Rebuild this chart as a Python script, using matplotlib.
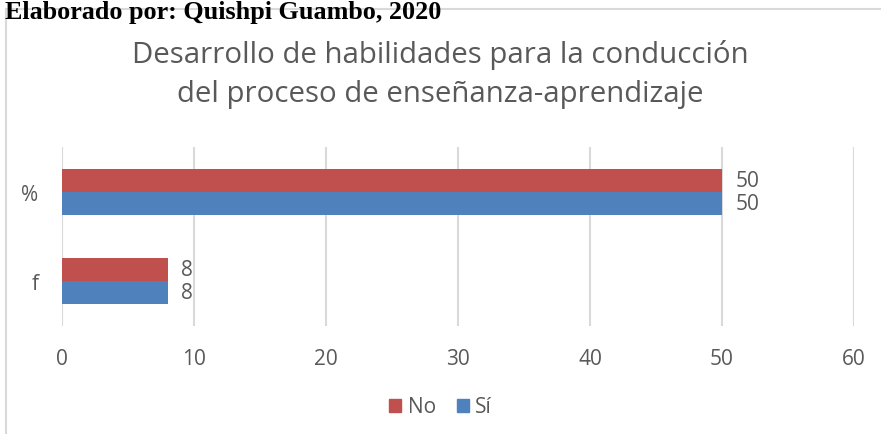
import numpy as np
import matplotlib
matplotlib.use("Agg")
import matplotlib.pyplot as plt
from matplotlib.patches import Patch
from matplotlib.lines import Line2D

# ---------- data ----------
categories = ["f", "%"]
series = ["No", "Sí"]
no_vals = [8, 50]
si_vals = [8, 50]
xticks = [0, 10, 20, 30, 40, 50, 60]

RED = "#C0504D"; BLUE = "#4F81BD"; GRAY = "#595959"; GRID = "#D9D9D9"
plt.rcParams["font.family"] = ["Open Sans", "DejaVu Sans"]

fig = plt.figure(figsize=(8.81, 4.35), dpi=100)
ax = fig.add_axes([62/881, 1-327/435, (854-62)/881, (327-148)/435])

y = np.arange(len(categories))
h = 0.257
b_no = ax.barh(y + h/2, no_vals, height=h, color=RED, label=series[0])
b_si = ax.barh(y - h/2, si_vals, height=h, color=BLUE, label=series[1])
for b in (b_no, b_si):
    ax.bar_label(b, padding=10, fontsize=15, color=GRAY)

ax.set_xlim(0, 60); ax.set_ylim(-0.5, 1.5)
ax.set_xticks(xticks)
ax.set_yticks(y, categories)
ax.grid(axis="x", color=GRID, lw=1.5); ax.set_axisbelow(True)
for s in ax.spines.values(): s.set_visible(False)
ax.tick_params(axis="x", length=0, pad=16, labelsize=15, labelcolor=GRAY)
ax.tick_params(axis="y", length=0, pad=17, labelsize=15, labelcolor=GRAY)

# chart frame
fig.add_artist(Line2D([6/881, 6/881], [0, 1-10/435], transform=fig.transFigure, color=GRID, lw=1.5))
fig.add_artist(Line2D([6/881, 1], [1-10/435, 1-10/435], transform=fig.transFigure, color=GRID, lw=1.5))

fig.text(0.5, 1-63/435, "Desarrollo de habilidades para la conducción", ha="center", va="baseline",
         fontsize=21.2, color=GRAY)
fig.text(0.5, 1-102/435, "del proceso de enseñanza-aprendizaje", ha="center", va="baseline",
         fontsize=21.2, color=GRAY)
fig.text(5/881, 1-19/435, "Elaborado por: Quishpi Guambo, 2020", ha="left", va="baseline",
         fontsize=18.8, fontweight="bold", family="Liberation Serif", color="black")

handles = [Patch(color=RED, label="No"), Patch(color=BLUE, label="Sí")]
fig.legend(handles=handles, loc="center", bbox_to_anchor=(0.5, 1-408/435), ncol=2, frameon=False,
           fontsize=15, labelcolor=GRAY, handlelength=0.6, handleheight=0.6, handletextpad=0.3,
           columnspacing=1.0)

fig.savefig("out.png", dpi=100)
